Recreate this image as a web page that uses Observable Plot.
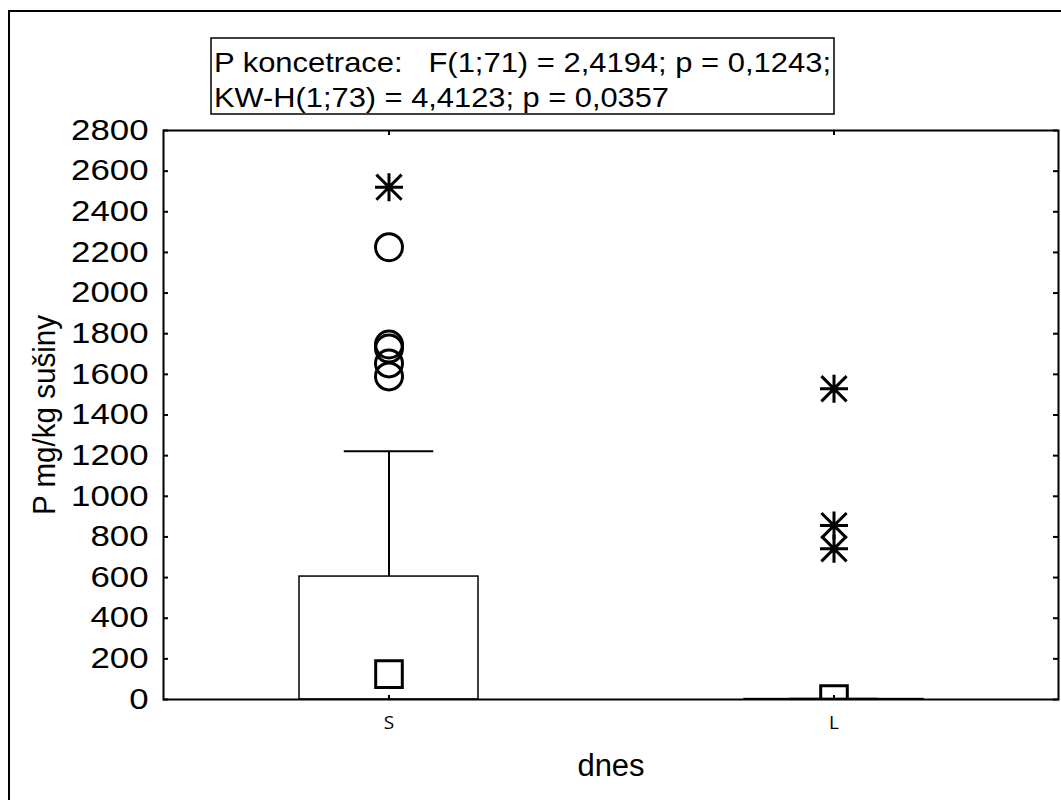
<!DOCTYPE html>
<html><head><meta charset="utf-8">
<script src="https://cdn.jsdelivr.net/npm/d3@7"></script>
<script src="https://cdn.jsdelivr.net/npm/@observablehq/plot@0.6"></script>
<style>
body{margin:0;background:#fff;}
svg{display:block;font-family:"Liberation Sans",Arial,sans-serif;}
</style>
</head><body><div id="chart"></div>
<script>
// ---- data ----
const categories = ["S", "L"];
const meanValues = [605, 2];
const whiskerTop = [1222, 4];
const medianValues = [125, 2];
const outlierCats = ["S", "S", "S", "S", "S"];
const outlierValues = [2226, 1747, 1727, 1654, 1590];
const extremeCats = ["S", "L", "L", "L"];
const extremeValues = [2521, 1529, 856, 742];
const yTicks = [0, 200, 400, 600, 800, 1000, 1200, 1400, 1600, 1800, 2000, 2200, 2400, 2600, 2800];
const legendLines = ["P koncetrace:   F(1;71) = 2,4194; p = 0,1243;", "KW-H(1;73) = 4,4123; p = 0,0357"];
const yLabel = "P mg/kg sušiny";
const xLabel = "dnes";

const stats = categories.map((c, i) => ({cat: c, mean: meanValues[i], top: whiskerTop[i], median: medianValues[i]}));
const outliers = outlierCats.map((c, i) => ({cat: c, v: outlierValues[i]}));
const extremes = extremeCats.map((c, i) => ({cat: c, v: extremeValues[i]}));

// custom symbols
const squareSym = {draw(ctx, size) {const h = Math.sqrt(size / Math.PI) * 0.95; ctx.moveTo(-h, -h); ctx.lineTo(h, -h); ctx.lineTo(h, h); ctx.lineTo(-h, h); ctx.closePath();}};
const circleSym = {draw(ctx, size) {const r = Math.sqrt(size / Math.PI); ctx.moveTo(r, 0); ctx.arc(0, 0, r, 0, 2 * Math.PI); ctx.closePath();}};
const starSym = {draw(ctx, size) {const r = Math.sqrt(size / Math.PI); const d = r * 0.9;
  ctx.moveTo(0, -r); ctx.lineTo(0, r); ctx.moveTo(-r, 0); ctx.lineTo(r, 0);
  ctx.moveTo(-d, -d); ctx.lineTo(d, d); ctx.moveTo(-d, d); ctx.lineTo(d, -d);}};

const frameW = 1061 - 163 - 3, frameH = 800 - 130 - 101;

const svg = Plot.plot({
  width: 1061, height: 800,
  marginLeft: 163, marginTop: 130, marginRight: 3, marginBottom: 101,
  style: {background: "white", color: "black", fontFamily: "'Liberation Sans', Arial, sans-serif"},
  x: {type: "band", domain: categories, paddingInner: 0.5987, paddingOuter: 0.304, align: 0.5, axis: null},
  y: {domain: [0, 2800], axis: null},
  marks: [
    Plot.barY(stats, {x: "cat", y: "mean", fill: "white", stroke: "black", strokeWidth: 1.5}),
    Plot.ruleX(stats, {x: "cat", y1: "mean", y2: "top", stroke: "black", strokeWidth: 2}),
    Plot.tickY(stats, {x: "cat", y: "top", insetLeft: 44.75, insetRight: 44.75, stroke: "black", strokeWidth: 2}),
    // ticks (inward)
    Plot.ruleY(yTicks, {y: d => d, insetRight: frameW - 5, stroke: "black", strokeWidth: 2}),
    Plot.ruleY(yTicks, {y: d => d, insetLeft: frameW - 5, stroke: "black", strokeWidth: 2}),
    Plot.ruleX(categories, {x: d => d, insetBottom: frameH - 5, stroke: "black", strokeWidth: 2}),
    Plot.ruleX(categories, {x: d => d, insetTop: frameH - 4, stroke: "black", strokeWidth: 2}),
    Plot.dot(stats, {x: "cat", y: "median", symbol: squareSym, r: 14, stroke: "black", strokeWidth: 3, fill: "none", clip: true}),
    Plot.dot(outliers, {x: "cat", y: "v", symbol: circleSym, r: 13.5, stroke: "black", strokeWidth: 3, fill: "none"}),
    Plot.dot(extremes, {x: "cat", y: "v", symbol: starSym, r: 14, stroke: "black", strokeWidth: 3, fill: "none"}),
    Plot.frame({stroke: "black", strokeWidth: 2}),
    // labels
    Plot.text(yTicks, {y: d => d, text: d => String(d), frameAnchor: "left", dx: -15, textAnchor: "end", fontSize: 29, fill: "black", className: "ytl"}),
    Plot.text(categories, {x: d => d, text: d => d, frameAnchor: "bottom", dy: 29, fontSize: 19, fill: "black", fontFamily: "'Open Sans', sans-serif"}),
    Plot.text([yLabel], {text: d => d, frameAnchor: "left", dx: -119, rotate: -90, textAnchor: "middle", fontSize: 32, fill: "black", className: "ylab"}),
    Plot.text([xLabel], {text: d => d, frameAnchor: "bottom", dy: 76, fontSize: 31, fill: "black"})
  ]
});
document.getElementById("chart").appendChild(svg);

const s = d3.select(svg);
// outer frame
s.append("path").attr("d", "M9,800V11H1061").attr("fill", "none").attr("stroke", "black").attr("stroke-width", 2);
// legend box
const g = s.append("g").attr("text-anchor", "start");
g.append("rect").attr("x", 211).attr("y", 38).attr("width", 623).attr("height", 76)
  .attr("fill", "white").attr("stroke", "black").attr("stroke-width", 1.5);
const targets = [617, 455];
legendLines.forEach((line, i) => {
  const t = g.append("text").attr("x", 214).attr("y", 72 + i * 35).attr("text-anchor", "start")
    .attr("font-size", 28).attr("fill", "black").style("white-space", "pre").text(line);
  t.attr("textLength", targets[i]).attr("lengthAdjust", "spacingAndGlyphs");
});
// stretch y tick labels horizontally like the reference
s.selectAll(".ytl text").each(function() {
  const l = this.getComputedTextLength();
  this.setAttribute("textLength", l * 1.2);
  this.setAttribute("lengthAdjust", "spacingAndGlyphs");
});
s.selectAll(".ylab text").each(function() {
  this.setAttribute("textLength", 200);
  this.setAttribute("lengthAdjust", "spacingAndGlyphs");
});
</script>
</body></html>
